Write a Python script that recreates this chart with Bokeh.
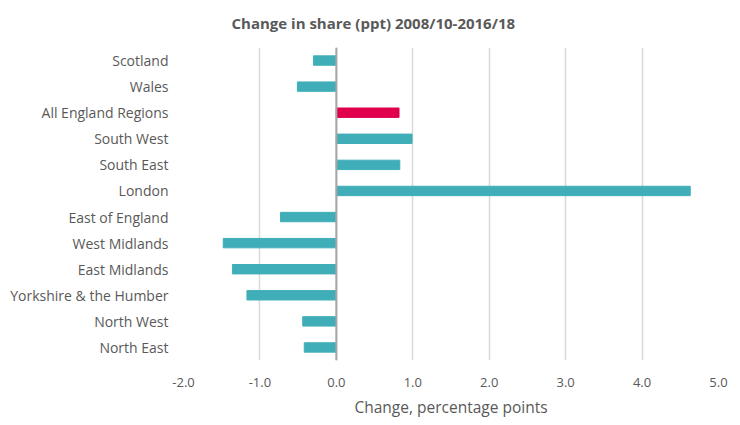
from bokeh.plotting import figure
from bokeh.models import Span, FixedTicker, ColumnDataSource
from bokeh.embed import file_html
from bokeh.resources import INLINE

# Regions listed top to bottom as displayed
regions = ["Scotland", "Wales", "All England Regions", "South West", "South East",
           "London", "East of England", "West Midlands", "East Midlands",
           "Yorkshire & the Humber", "North West", "North East"]
change_ppt = [-0.30, -0.51, 0.82, 0.99, 0.83, 4.63, -0.73, -1.48, -1.36, -1.17, -0.44, -0.42]
x_ticks = [-2, -1, 0, 1, 2, 3, 4, 5]
title_text = "Change in share (ppt) 2008/10-2016/18"

TEAL = "#40AEB8"
RED = "#E0004D"
TEXT = "#595959"
FONT = "Open Sans"

colors = [RED if r == "All England Regions" else TEAL for r in regions]
source = ColumnDataSource(dict(region=regions, change=change_ppt, color=colors))

p = figure(width=740, height=425, y_range=list(reversed(regions)), x_range=(-2, 5),
           output_backend="svg", toolbar_location=None, title=title_text,
           min_border_left=183, min_border_right=22, min_border_top=47, min_border_bottom=65)

p.hbar(y="region", left=0, right="change", height=0.36, color="color", source=source)

p.add_layout(Span(location=0, dimension="height", line_color="#A6A6A6", line_width=2))

# title shifted left so it sits centred over the whole figure
p.title.align = "left"
p.title.offset = 48
p.title.vertical_align = "top"
p.title.standoff = 25
p.title.text_font = FONT
p.title.text_font_size = "15px"
p.title.text_font_style = "bold"
p.title.text_color = TEXT

p.y_range.range_padding = 0
p.outline_line_color = None
p.ygrid.grid_line_color = None
p.xgrid.grid_line_color = "#D9D9D9"
p.xgrid.grid_line_width = 1.5

p.xaxis.ticker = FixedTicker(ticks=x_ticks)
p.xaxis.major_label_overrides = {t: f"{t:.1f}" for t in x_ticks}
p.xaxis.axis_label = "Change, percentage points"

for ax in (p.xaxis, p.yaxis):
    ax.axis_line_color = None
    ax.major_tick_line_color = None
    ax.minor_tick_line_color = None
    ax.major_label_text_font = FONT
    ax.major_label_text_color = TEXT

p.xaxis.major_label_text_font_size = "13px"
p.yaxis.major_label_text_font_size = "14px"
p.yaxis.major_label_standoff = 9
p.xaxis.major_label_standoff = 11
p.xaxis.axis_label_text_font = FONT
p.xaxis.axis_label_text_font_size = "15.5px"
p.xaxis.axis_label_text_font_style = "normal"
p.xaxis.axis_label_text_color = TEXT
p.xaxis.axis_label_standoff = 6

open("out.html", "w").write(file_html(p, INLINE))
